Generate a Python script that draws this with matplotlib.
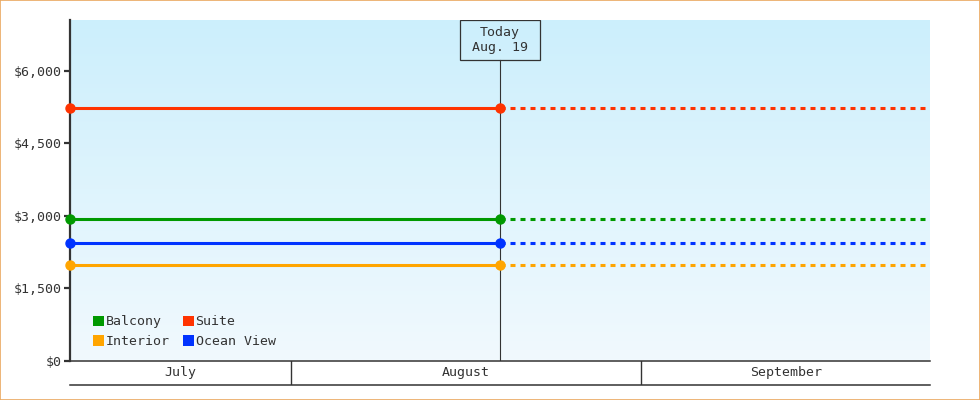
import numpy as np
import matplotlib
matplotlib.use("Agg")
import matplotlib.pyplot as plt
import matplotlib.patches as mpatches
import matplotlib.transforms as mtrans
from matplotlib.ticker import FuncFormatter

# ---- data ----
# x values are day offsets from July 1 (noon times)
series_names = ["Balcony", "Interior", "Suite", "Ocean View"]
series_colors = ["#009900", "#ffa500", "#ff3300", "#0033ff"]
start_day = 11.5          # Jul 12
today_day = 49.5          # Aug 19
end_day = 87.5            # Sep 26 (right edge)
balcony = [2925, 2925]
interior = [1975, 1975]
suite = [5220, 5220]
ocean_view = [2430, 2430]
series_values = [balcony, interior, suite, ocean_view]
month_names = ["July", "August", "September"]
month_starts = [0, 31, 62, 92]
y_ticks = [0, 1500, 3000, 4500, 6000]
today_label = "Today\nAug. 19"

FONT = "DejaVu Sans Mono"
FS = 9.5
DARK = "#333333"

plt.rcParams["lines.scale_dashes"] = False
fig = plt.figure(figsize=(9.8, 4.0), dpi=100)
W, H = 980, 400
ax = fig.add_axes([70 / W, (H - 360.5) / H, 860 / W, 340.5 / H])
ax.set_xlim(start_day, end_day)
ax.set_ylim(0, 7045)

# gradient background
grad = np.linspace(0, 1, 256).reshape(-1, 1)
top = np.array([0xcc, 0xef, 0xfc]) / 255
bot = np.array([0xf1, 0xf9, 0xfe]) / 255
img = top[None, None, :] * (1 - grad[:, :, None]) + bot[None, None, :] * grad[:, :, None]
ax.imshow(img, extent=[start_day, end_day, 0, 7045], aspect="auto", origin="upper", zorder=0)

for name, col, vals in zip(series_names, series_colors, series_values):
    ax.plot([start_day, today_day], vals, color=col, lw=2.2, solid_capstyle="butt", zorder=3)
    ax.plot([today_day, end_day], [vals[-1], vals[-1]], color=col, lw=2.2,
            dashes=(3.6, 3.6), zorder=3)
    ax.plot([start_day, today_day], vals, ls="none", marker="o", ms=6.5, color=col,
            zorder=4, clip_on=False)

# today marker
px_days = (end_day - start_day) / 860
box_w = 80 * px_days
box_h = 40 / 340.5
tr = mtrans.blended_transform_factory(ax.transData, ax.transAxes)
ax.add_patch(mpatches.Rectangle((today_day - box_w / 2, 1 - box_h), box_w, box_h,
                                transform=tr, facecolor="none", edgecolor=DARK, lw=0.9, zorder=5))
ax.plot([today_day, today_day], [0, 1 - box_h], transform=tr, color=DARK, lw=0.8, zorder=2)
ax.text(today_day, 1 - box_h / 2, today_label, transform=tr, ha="center", va="center",
        fontsize=FS, family=FONT, color=DARK, linespacing=1.25, zorder=6)

# axes styling
for s in ["top", "right"]:
    ax.spines[s].set_visible(False)
ax.spines["left"].set_color(DARK)
ax.spines["left"].set_linewidth(1.6)
ax.spines["bottom"].set_color(DARK)
ax.spines["bottom"].set_linewidth(1.1)
ax.set_xticks([])
ax.set_yticks(y_ticks)
ax.yaxis.set_major_formatter(FuncFormatter(lambda v, p: "${:,.0f}".format(v)))
ax.tick_params(axis="y", length=4, width=1.6, color=DARK, labelcolor=DARK, pad=2, labelsize=FS)
for lab in ax.get_yticklabels():
    lab.set_family(FONT)

# legend
handles = [mpatches.Patch(facecolor=c, edgecolor="none") for c in series_colors]
leg = ax.legend(handles, series_names, ncol=2, loc="lower left",
                bbox_to_anchor=(14 / 860, 3 / 340.5), frameon=False,
                prop={"family": FONT, "size": FS}, handlelength=0.85, handleheight=0.85,
                handletextpad=0.1, columnspacing=1.0, labelspacing=0.52, borderpad=0.2)
for t in leg.get_texts():
    t.set_color(DARK)

# month band
bx = fig.add_axes([70 / W, (H - 385) / H, 860 / W, 24.5 / H])
bx.set_xlim(start_day, end_day)
bx.set_ylim(0, 1)
bx.set_xticks([])
bx.set_yticks([])
bx.patch.set_alpha(0)
for s in ["left", "right", "top"]:
    bx.spines[s].set_visible(False)
bx.spines["bottom"].set_color(DARK)
bx.spines["bottom"].set_linewidth(1.1)
for i, m in enumerate(month_names):
    a = max(month_starts[i], start_day)
    b = min(month_starts[i + 1], end_day)
    bx.text((a + b) / 2, 0.5, m, ha="center", va="center", fontsize=FS, family=FONT, color=DARK)
    if month_starts[i] > start_day:
        bx.axvline(month_starts[i], color=DARK, lw=1.0)

# figure border
fig.patches.append(mpatches.Rectangle((0.0005, 0.001), 0.999, 0.998, transform=fig.transFigure,
                                      facecolor="none", edgecolor="#eaa860", lw=1.2))

fig.savefig("out.png", dpi=100)
